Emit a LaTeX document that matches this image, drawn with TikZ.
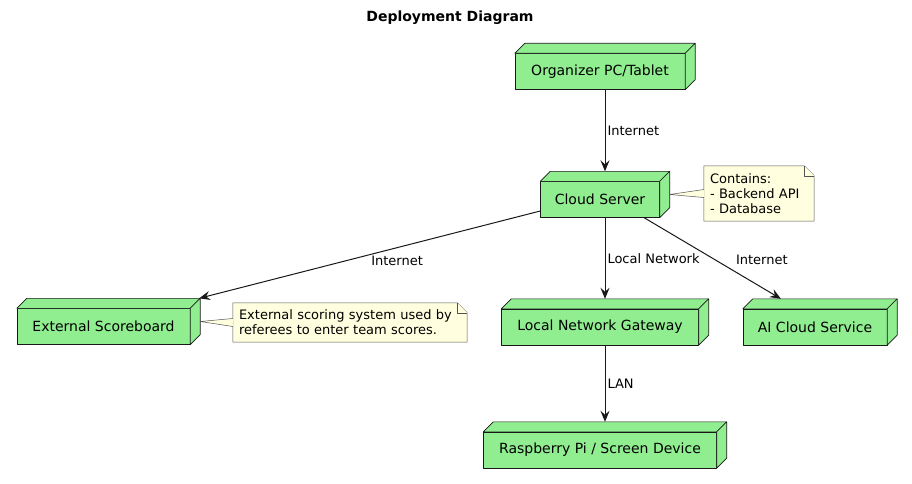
\documentclass[tikz,border=0pt]{standalone}
\usepackage{fontspec}
\setmainfont{DejaVu Sans}
\usetikzlibrary{arrows.meta,calc,backgrounds}
\definecolor{nodegreen}{HTML}{90EE90}
\definecolor{notebg}{HTML}{FFFFE0}
\definecolor{lnk}{HTML}{181818}

\begin{document}
\begin{tikzpicture}[x=1pt,y=-1pt]
\tikzstyle{dev} = [minimum height=46pt, inner sep=0pt]
\tikzstyle{devtxt} = [font=\fontsize{14}{16}\selectfont, xshift=-5pt, yshift=-5pt]
\tikzstyle{face} = [fill=nodegreen, draw=lnk, line width=0.6pt, line join=round]
\tikzstyle{note} = [font=\fontsize{13}{15}\selectfont, align=left, inner sep=6pt]
\tikzstyle{paper} = [fill=notebg, draw=lnk!75, line width=0.5pt, line join=round]
\tikzstyle{link} = [draw=lnk, line width=1pt, -{Stealth[length=11pt,width=9pt,inset=4pt]}]
\tikzstyle{lbl} = [font=\fontsize{13}{15}\selectfont, inner sep=2pt]

\useasboundingbox (0,0) rectangle (912,484);

\node[font=\bfseries\fontsize{14}{16}\selectfont] (title) at (450,18) {Deployment Diagram};

\node[dev, minimum width=180pt, label={[devtxt]center:Organizer PC/Tablet}] (org) at (605,66.5) {};
\node[dev, minimum width=129pt, label={[devtxt]center:Cloud Server}] (cloud) at (605,194.5) {};
\node[dev, minimum width=183pt, label={[devtxt]center:External Scoreboard}] (ext) at (108.5,321.5) {};
\node[dev, minimum width=207pt, label={[devtxt]center:Local Network Gateway}] (gw) at (605,322) {};
\node[dev, minimum width=154pt, label={[devtxt]center:AI Cloud Service}] (ai) at (820,322) {};
\node[dev, minimum width=243pt, label={[devtxt]center:Raspberry Pi / Screen Device}] (rpi) at (605,445) {};

\node[note, text width=98pt, minimum height=55pt] (noteC) at (759,193.5) {Contains:\\- Backend API\\- Database};
\node[note, text width=222pt, minimum height=39pt] (noteE) at (350,322.5) {External scoring system used by\\referees to enter team scores.};

\begin{pgfonlayer}{background}
\foreach \n in {org,cloud,ext,gw,ai,rpi} {
\draw[face] ($(\n.north west)+(0,10)$) rectangle ($(\n.south east)+(-10,0)$);
\draw[face] ($(\n.north west)+(0,10)$) -- ($(\n.north west)+(10,0)$) -- (\n.north east) -- ($(\n.north east)+(-10,10)$) -- cycle;
\draw[face] ($(\n.north east)+(-10,10)$) -- (\n.north east) -- ($(\n.south east)+(0,-10)$) -- ($(\n.south east)+(-10,0)$) -- cycle;
}
\foreach \n in {noteC,noteE} {
\draw[paper] (\n.north west) -- ($(\n.north east)+(-10,0)$) -- ($(\n.north east)+(0,10)$) -- (\n.south east) -- (\n.south west) -- cycle;
\draw[paper] ($(\n.north east)+(-10,0)$) -- ($(\n.north east)+(-10,10)$) -- ($(\n.north east)+(0,10)$);
}
\filldraw[paper] ($(noteC.west)+(0,-4)$) -- (cloud.east) -- ($(noteC.west)+(0,4)$);
\filldraw[paper] ($(noteE.west)+(0,-4)$) -- (ext.east) -- ($(noteE.west)+(0,4)$);
\end{pgfonlayer}

\draw[link] (org) -- (cloud) node[lbl, midway, anchor=west] {Internet};
\draw[link] (cloud) -- (ext) node[lbl, pos=0.5, anchor=north west, inner sep=1pt] {Internet};
\draw[link] (cloud) -- (gw) node[lbl, midway, anchor=west] {Local Network};
\draw[link] (cloud) -- (ai) node[lbl, pos=0.5, anchor=west, xshift=21pt, yshift=-2pt] {Internet};
\draw[link] (gw) -- (rpi) node[lbl, midway, anchor=west] {LAN};

\end{tikzpicture}
\end{document}
